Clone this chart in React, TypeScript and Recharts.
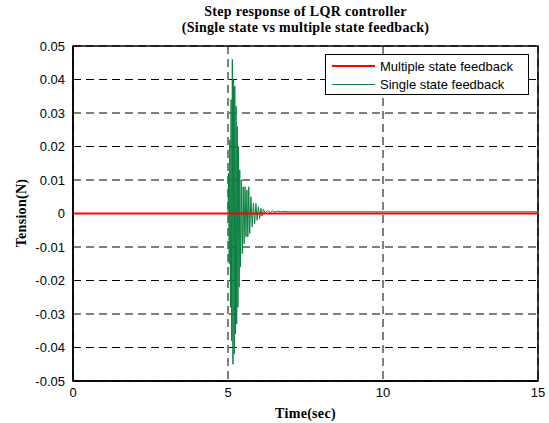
import React from 'react';
import {
  LineChart,
  Line,
  XAxis,
  YAxis,
  CartesianGrid,
  ReferenceArea,
} from 'recharts';

// time axis (sec) and tension values (N)
const xTicks = [0, 5, 10, 15];
const yTicks = [-0.05, -0.04, -0.03, -0.02, -0.01, 0, 0.01, 0.02, 0.03, 0.04, 0.05];

const multipleTime = [0, 15];
const multipleTension = [0, 0];

const singleTime = [
  0, 5.0, 5.02, 5.04, 5.06, 5.08, 5.1, 5.12, 5.14, 5.16, 5.18, 5.2, 5.22, 5.24,
  5.26, 5.28, 5.3, 5.32, 5.34, 5.36, 5.38, 5.4, 5.43, 5.46, 5.49, 5.52, 5.55,
  5.58, 5.61, 5.64, 5.67, 5.7, 5.74, 5.78, 5.82, 5.86, 5.9, 5.94, 5.98, 6.02,
  6.06, 6.1, 6.14, 6.2, 6.28, 6.36, 6.44, 6.52, 6.6, 6.7, 6.8, 7.0, 15,
];
const singleTension = [
  0, 0, 0.012, -0.015, 0.022, -0.028, 0.034, -0.038, 0.046, -0.045, 0.04,
  -0.042, 0.038, -0.036, 0.032, -0.033, 0.026, -0.028, 0.02, -0.022, 0.013,
  -0.016, 0.01, -0.012, 0.008, -0.009, 0.008, -0.007, 0.007, -0.007, 0.008,
  -0.006, 0.005, -0.004, 0.003, -0.003, 0.003, -0.002, 0.002, -0.0015, 0.0015,
  -0.0008, 0.0012, 0.0002, 0.0009, 0.0003, 0.0008, 0.0004, 0.0007, 0.0005,
  0.0006, 0.0005, 0.0005,
];

const multipleData = multipleTime.map((t, i) => ({ t, v: multipleTension[i] }));
const singleData = singleTime.map((t, i) => ({ t, v: singleTension[i] }));

const GREEN = '#0a7f3f';
const RED = '#ff0000';
const serif = '"Liberation Serif", "Times New Roman", serif';
const sans = '"Liberation Sans", Arial, sans-serif';

const fmtY = (v: number) => (v === 0 ? '0' : v.toFixed(2));

function LegendBox() {
  return (
    <div
      style={{
        position: 'absolute',
        left: 325,
        top: 54,
        width: 204,
        height: 41,
        border: '1px solid #000',
        background: '#fff',
        fontFamily: sans,
        fontSize: 13,
        boxSizing: 'border-box',
      }}
    >
      {[
        { name: 'Multiple state feedback', color: RED, w: 2 },
        { name: 'Single state feedback', color: GREEN, w: 1 },
      ].map((it, i) => (
        <div
          key={it.name}
          style={{ position: 'absolute', left: 6, top: 3 + i * 18, height: 16, display: 'flex', alignItems: 'center' }}
        >
          <div style={{ width: 43, height: it.w, background: it.color }} />
          <span style={{ marginLeft: 5, color: '#000' }}>{it.name}</span>
        </div>
      ))}
    </div>
  );
}

export default function App() {
  return (
    <div style={{ position: 'absolute', left: 0, top: 0, width: 549, height: 423, background: '#fff' }}>
      <LineChart
        width={549}
        height={423}
        margin={{ top: 46, right: 11, bottom: 0, left: 0 }}
      >
        <CartesianGrid stroke="#000" strokeDasharray="8 5" strokeWidth={1} />
        <XAxis
          type="number"
          dataKey="t"
          domain={[0, 15]}
          ticks={xTicks}
          height={42}
          tickLine={false}
          tickMargin={1}
          axisLine={{ stroke: '#000', strokeWidth: 1.5 }}
          tick={{ fill: '#000', fontSize: 13, fontFamily: sans }}
          allowDuplicatedCategory={false}
        />
        <YAxis
          type="number"
          dataKey="v"
          domain={[-0.05, 0.05]}
          ticks={yTicks}
          width={73}
          tickLine={false}
          tickMargin={2}
          tickFormatter={fmtY}
          axisLine={{ stroke: '#000', strokeWidth: 1.5 }}
          tick={{ fill: '#000', fontSize: 13, fontFamily: sans }}
        />
        <ReferenceArea
          x1={0}
          x2={15}
          y1={-0.05}
          y2={0.05}
          fill="none"
          stroke="#000"
          strokeWidth={1.5}
          ifOverflow="visible"
        />
        <Line
          data={singleData}
          dataKey="v"
          type="linear"
          stroke={GREEN}
          strokeWidth={1}
          dot={false}
          isAnimationActive={false}
        />
        <Line
          data={multipleData}
          dataKey="v"
          type="linear"
          stroke={RED}
          strokeWidth={2}
          dot={false}
          isAnimationActive={false}
        />
      </LineChart>
      <div
        style={{
          position: 'absolute',
          left: 0,
          width: 611,
          top: 4,
          textAlign: 'center',
          fontFamily: serif,
          fontWeight: 'bold',
          fontSize: 14,
          lineHeight: '16px',
          letterSpacing: 0.3,
          color: '#000',
        }}
      >
        Step response of LQR controller
        <br />
        (Single state vs multiple state feedback)
      </div>
      <div
        style={{
          position: 'absolute',
          left: 0,
          width: 611,
          top: 406,
          textAlign: 'center',
          fontFamily: serif,
          fontWeight: 'bold',
          fontSize: 14,
          letterSpacing: 0.3,
          color: '#000',
        }}
      >
        Time(sec)
      </div>
      <div
        style={{
          position: 'absolute',
          left: 22,
          top: 213,
          transform: 'translate(-50%, -50%) rotate(-90deg)',
          fontFamily: serif,
          fontWeight: 'bold',
          fontSize: 14,
          letterSpacing: 0.3,
          whiteSpace: 'nowrap',
          color: '#000',
        }}
      >
        Tension(N)
      </div>
      <LegendBox />
    </div>
  );
}
